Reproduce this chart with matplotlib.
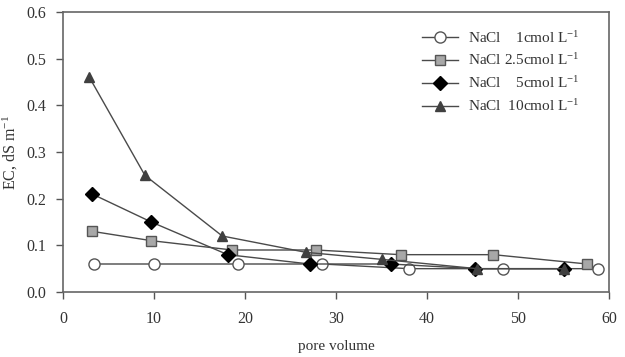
import matplotlib
matplotlib.use("Agg")
import matplotlib.pyplot as plt

plt.rcParams['font.family'] = ['Liberation Serif', 'DejaVu Serif']
plt.rcParams['mathtext.fontset'] = 'custom'
plt.rcParams['mathtext.rm'] = 'Liberation Serif'
plt.rcParams['mathtext.it'] = 'Liberation Serif:italic'

labels = ["NaCl    1cmol L$^{-1}$", "NaCl 2.5cmol L$^{-1}$",
          "NaCl    5cmol L$^{-1}$", "NaCl  10cmol L$^{-1}$"]

x1 = [3.4, 10.0, 19.2, 28.5, 38.0, 48.4, 58.8]
y1 = [0.06, 0.06, 0.06, 0.06, 0.05, 0.05, 0.05]

x2 = [3.2, 9.7, 18.6, 27.8, 37.1, 47.3, 57.6]
y2 = [0.13, 0.11, 0.09, 0.09, 0.08, 0.08, 0.06]

x3 = [3.2, 9.7, 18.1, 27.1, 36.0, 45.3, 55.0]
y3 = [0.21, 0.15, 0.08, 0.06, 0.06, 0.05, 0.05]

x4 = [2.9, 9.0, 17.5, 26.7, 35.0, 45.5, 55.0]
y4 = [0.46, 0.25, 0.12, 0.085, 0.07, 0.05, 0.05]

fig = plt.figure(figsize=(6.25, 3.57), dpi=100)
ax = fig.add_axes([63/625, 1-292/357, (609-63)/625, (292-12)/357])

lc = '#4a4a4a'
ax.plot(x1, y1, color=lc, lw=1, marker='o', ms=8, mfc='white', mec='#555555', mew=1, label=labels[0], zorder=3)
ax.plot(x2, y2, color=lc, lw=1, marker='s', ms=7, mfc='#a8a8a8', mec='#555555', mew=1, label=labels[1], zorder=3)
ax.plot(x3, y3, color=lc, lw=1, marker='D', ms=7, mfc='black', mec='black', mew=1, label=labels[2], zorder=3)
ax.plot(x4, y4, color=lc, lw=1, marker='^', ms=7, mfc='#404040', mec='#404040', mew=1, label=labels[3], zorder=3)

ax.set_xlim(0, 60)
ax.set_ylim(0, 0.6)
ax.set_xticks([0, 10, 20, 30, 40, 50, 60])
ax.set_yticks([0.0, 0.1, 0.2, 0.3, 0.4, 0.5, 0.6])
ax.set_yticklabels(['0.0', '0.1', '0.2', '0.3', '0.4', '0.5', '0.6'])
ax.tick_params(direction='out', length=5, width=1, labelsize=11.5, color='#555555', labelcolor='#333333')
ax.tick_params(axis='x', pad=9)
ax.tick_params(axis='y', pad=7)
for s in ax.spines.values():
    s.set_color('#666666')
    s.set_linewidth(1.2)

ax.set_xlabel('pore volume', fontsize=11, color='#333333', labelpad=9)
ax.set_ylabel('EC, dS m$^{-1}$', fontsize=11.5, color='#333333', labelpad=5)

leg = ax.legend(loc='upper right', bbox_to_anchor=(0.965, 0.975), frameon=False, fontsize=11,
                handlelength=2.4, labelspacing=0.45, handletextpad=0.6, borderaxespad=0.3)
for t in leg.get_texts():
    t.set_color('#333333')

fig.savefig('out.png', dpi=100)
